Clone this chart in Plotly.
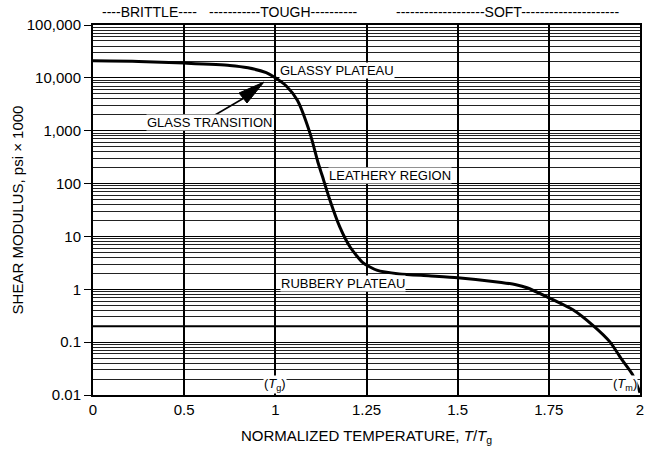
import numpy as np
import plotly.graph_objects as go

# Normalized temperature axis labels (equally spaced on the chart)
x_tick_values = [0, 0.5, 1, 1.25, 1.5, 1.75, 2]
x_tick_labels = ["0", "0.5", "1", "1.25", "1.5", "1.75", "2"]

# Y decades
y_tick_values = [0.01, 0.1, 1, 10, 100, 1000, 10000, 100000]
y_tick_labels = ["0.01", "0.1", "1", "10", "100", "1,000", "10,000", "100,000"]

# Curve: shear modulus (psi x 1000) vs T/Tg
curve_T = [0, 0.25, 0.5, 0.75, 0.85, 0.95, 1.0, 1.03, 1.06, 1.095, 1.117, 1.128,
           1.15, 1.177, 1.205, 1.24, 1.278, 1.34, 1.42, 1.5, 1.62, 1.66, 1.69,
           1.745, 1.816, 1.87, 1.918, 1.95, 1.98, 2.0]
curve_G = [21000, 20500, 19000, 17200, 15500, 12500, 10000, 7000, 3800, 900, 250, 145,
           48, 15, 6.3, 3.2, 2.3, 1.95, 1.8, 1.66, 1.35, 1.22, 1.07,
           0.72, 0.41, 0.21, 0.10, 0.047, 0.024, 0.011]

tick_positions = list(range(len(x_tick_values)))


def pos(t):
    return np.interp(t, x_tick_values, tick_positions)


minor_vals = [m * 10.0 ** e for e in range(-2, 5) for m in range(2, 10)]

FONT = "Liberation Sans, Arial, sans-serif"
L, R, T, B = 93, 5, 25, 56
W, H = 645, 451
PW, PH = W - L - R, H - T - B


def px2paper(px, py):
    return (px - L) / PW, (H - B - py) / PH


fig = go.Figure()
fig.add_trace(go.Scatter(
    x=pos(np.array(curve_T)), y=curve_G, mode="lines",
    line=dict(color="black", width=3, shape="spline", smoothing=0.6),
    hoverinfo="skip", showlegend=False,
))

fig.update_layout(
    width=W, height=H,
    margin=dict(l=L, r=R, t=T, b=B),
    paper_bgcolor="white", plot_bgcolor="white",
    font=dict(family=FONT, color="black", size=15),
    showlegend=False,
    xaxis=dict(
        range=[0, 6], tickvals=tick_positions, ticktext=x_tick_labels,
        showgrid=True, gridcolor="black", gridwidth=2,
        showline=True, linecolor="black", linewidth=2, mirror=True,
        ticks="", zeroline=False, automargin=False,
        tickfont=dict(size=15),
        title=dict(text="NORMALIZED TEMPERATURE, <i>T</i>/<i>T</i><sub>g</sub>",
                   font=dict(size=15), standoff=13),
    ),
    yaxis=dict(
        type="log", range=[-2, 5], tickvals=y_tick_values, ticktext=y_tick_labels,
        showgrid=True, gridcolor="black", gridwidth=1,
        showline=True, linecolor="black", linewidth=2, mirror=True,
        ticks="outside", ticklen=7, tickwidth=1, tickcolor="black",
        tickfont=dict(size=15), zeroline=False, automargin=False,
        minor=dict(tickvals=minor_vals, showgrid=True, gridcolor="#222",
                   gridwidth=1, ticks=""),
        title=dict(text="SHEAR MODULUS, psi \u00d7 1000", font=dict(size=15),
                   standoff=0),
    ),
)

# Thick line at 0.2
fig.add_shape(type="line", xref="paper", x0=0, x1=1, yref="y", y0=0.2, y1=0.2,
              line=dict(color="black", width=2.2))

ann_font = dict(family=FONT, size=13, color="black")


def label(text, t, g, xanchor="left"):
    fig.add_annotation(x=float(pos(t)), y=np.log10(g), xref="x", yref="y", text=text,
                       showarrow=False, xanchor=xanchor, yanchor="middle", font=ann_font,
                       bgcolor="white", borderpad=0)


label("GLASSY PLATEAU", 1.01, 14000)
label("LEATHERY REGION", 1.144, 145)
label("RUBBERY PLATEAU", 1.013, 1.3)
label("GLASS TRANSITION", 0.987, 1400, xanchor="right")
fig.add_annotation(x=float(pos(1.0)), y=np.log10(0.016), text="(<i>T</i><sub>g</sub>)",
                   showarrow=False, xanchor="center", yanchor="middle", font=ann_font,
                   bgcolor="white", borderpad=0)
fig.add_annotation(x=float(pos(1.958)), y=np.log10(0.016), text="(<i>T</i><sub>m</sub>)",
                   showarrow=False, xanchor="center", yanchor="middle", font=ann_font,
                   bgcolor="white", borderpad=0)

# Arrow for glass transition: shaft + slender filled head
x0, y0 = px2paper(215, 115)
x1, y1 = px2paper(244, 98)
fig.add_shape(type="line", xref="paper", yref="paper", x0=x0, y0=y0, x1=x1, y1=y1,
              line=dict(color="black", width=1.6))
tip = px2paper(264, 82)
c1 = px2paper(239, 93)
c2 = px2paper(247, 103)
fig.add_shape(type="path", xref="paper", yref="paper",
              path=f"M{tip[0]},{tip[1]} L{c1[0]},{c1[1]} L{c2[0]},{c2[1]} Z",
              fillcolor="black", line=dict(color="black", width=1))

# Region labels above the plot
top_labels = [("----BRITTLE----", 149), ("-----------TOUGH----------", 283),
              ("-------------------SOFT---------------------", 507)]
for txt, px in top_labels:
    fig.add_annotation(x=(px - L) / PW, y=1.035, xref="paper", yref="paper", text=txt,
                       showarrow=False, xanchor="center", yanchor="middle",
                       font=dict(family=FONT, size=14, color="black"))

fig.write_html("out.html")
